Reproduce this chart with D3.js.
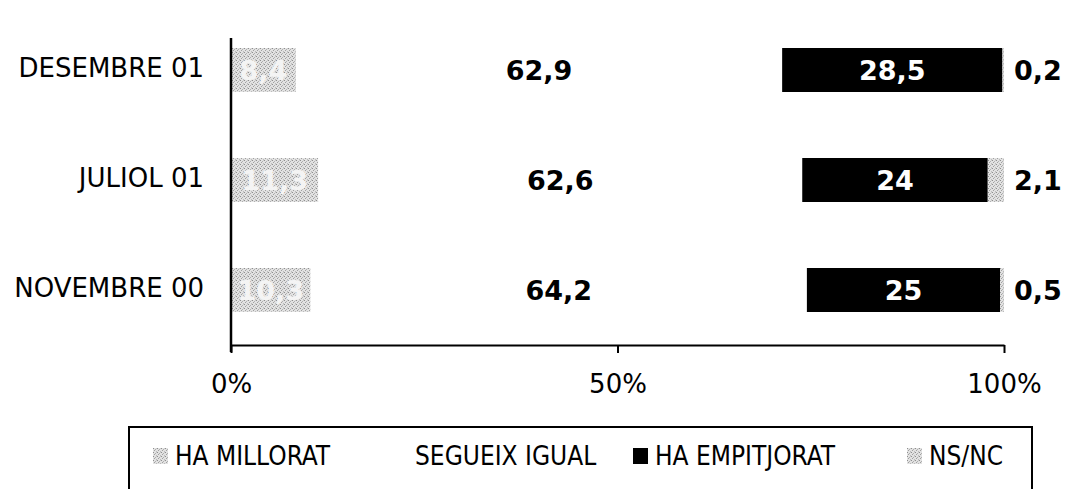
<!DOCTYPE html>
<html lang="en">
<head>
    <meta charset="UTF-8">
    <title>Stacked bars</title>
    <script src="https://d3js.org/d3.v7.min.js"></script>
    <style>
        body { margin: 0; background: #fff; }
        svg { display: block; }
        .cat { font-family: "DejaVu Sans", sans-serif; font-size: 26px; }
        .val { font-family: "DejaVu Sans", sans-serif; font-weight: bold; font-size: 27px; }
        .tick-lbl { font-family: "DejaVu Sans", sans-serif; font-size: 26px; }
        .leg { font-family: "DejaVu Sans Condensed", "DejaVu Sans", sans-serif; font-size: 26px; }
    </style>
</head>
<body>
<div id="chart"></div>
<script>
    // data
    const categories = ["DESEMBRE 01", "JULIOL 01", "NOVEMBRE 00"];
    const seriesNames = ["HA MILLORAT", "SEGUEIX IGUAL", "HA EMPITJORAT", "NS/NC"];
    const millorat = [8.4, 11.3, 10.3];
    const segueix = [62.9, 62.6, 64.2];
    const empitjorat = [28.5, 24, 25];
    const nsnc = [0.2, 2.1, 0.5];
    const tickValues = [0, 50, 100];

    const width = 1079, height = 489;

    const svg = d3.select("#chart").append("svg")
        .attr("width", width)
        .attr("height", height);

    // speckled grey fill
    const defs = svg.append("defs");
    const pat = defs.append("pattern")
        .attr("id", "speck")
        .attr("patternUnits", "userSpaceOnUse")
        .attr("width", 4).attr("height", 4);
    pat.append("rect").attr("width", 4).attr("height", 4).attr("fill", "#e2e2e2");
    [[0, 0, "#8f8f8f"], [2, 1, "#b0b0b0"], [1, 2, "#a0a0a0"], [3, 3, "#bcbcbc"], [3, 0, "#cdcdcd"]]
        .forEach(p => pat.append("rect").attr("x", p[0]).attr("y", p[1])
            .attr("width", 1).attr("height", 1).attr("fill", p[2]));

    const colors = ["url(#speck)", "#ffffff", "#000000", "url(#speck)"];

    const x = d3.scaleLinear().domain([0, 100]).range([231, 1004]);
    const y = d3.scaleBand().domain(categories).range([15, 345])
        .paddingInner(0.6).paddingOuter(0.3);

    const rows = categories.map((c, i) => ({
        cat: c, values: [millorat[i], segueix[i], empitjorat[i], nsnc[i]]
    }));

    const stacked = d3.stack().keys([0, 1, 2, 3]).value((d, k) => d.values[k])(rows);

    // bars
    stacked.forEach((layer, k) => {
        svg.append("g").selectAll("rect")
            .data(layer)
            .enter().append("rect")
            .attr("x", d => x(d[0]))
            .attr("y", d => y(d.data.cat))
            .attr("width", d => x(d[1]) - x(d[0]))
            .attr("height", y.bandwidth())
            .attr("fill", colors[k]);
    });

    const fmt = v => String(v).replace(".", ",");

    // value labels
    stacked.forEach((layer, k) => {
        svg.append("g").selectAll("text")
            .data(layer)
            .enter().append("text")
            .attr("class", "val")
            .attr("x", d => k === 3 ? x(d[1]) + 10 : (x(d[0]) + x(d[1])) / 2)
            .attr("y", d => y(d.data.cat) + y.bandwidth() / 2)
            .attr("dy", "0.37em")
            .attr("text-anchor", k === 3 ? "start" : "middle")
            .attr("fill", k === 0 ? "#f4f4f4" : (k === 2 ? "#fff" : "#000"))
            .text(d => fmt(d.data.values[k]));
    });

    // category labels
    svg.append("g").selectAll("text")
        .data(categories)
        .enter().append("text")
        .attr("class", "cat")
        .attr("x", 204)
        .attr("y", d => y(d) + y.bandwidth() / 2)
        .attr("dy", "0.28em")
        .attr("text-anchor", "end")
        .text(d => d);

    // axes
    svg.append("line")
        .attr("x1", x(0)).attr("x2", x(0))
        .attr("y1", 38).attr("y2", 352)
        .attr("stroke", "#000").attr("stroke-width", 2.5);

    const xAxis = svg.append("g")
        .attr("transform", "translate(0,345)")
        .call(d3.axisBottom(x).tickValues(tickValues).tickSize(8).tickSizeOuter(0)
            .tickFormat(d => d + "%"));
    xAxis.attr("font-size", null).attr("font-family", null);
    xAxis.select(".domain").attr("stroke", "#000").attr("stroke-width", 2);
    xAxis.selectAll(".tick line").attr("stroke", "#000").attr("stroke-width", 2);
    xAxis.selectAll(".tick text")
        .attr("class", "tick-lbl")
        .attr("fill", "#000")
        .attr("y", 48)
        .attr("dy", null);

    // legend
    svg.append("path")
        .attr("d", "M129,500 V427 H1032 V500")
        .attr("fill", "none")
        .attr("stroke", "#000")
        .attr("stroke-width", 2);

    const legendX = [153, 393, 633, 907];
    const leg = svg.append("g").selectAll("g")
        .data(seriesNames)
        .enter().append("g")
        .attr("transform", (d, i) => `translate(${legendX[i]},456)`);
    leg.append("rect")
        .attr("x", 0).attr("y", -8)
        .attr("width", 15).attr("height", 16)
        .attr("fill", (d, i) => colors[i]);
    leg.append("text")
        .attr("class", "leg")
        .attr("x", 22)
        .attr("dy", "0.36em")
        .text(d => d);
</script>
</body>
</html>
